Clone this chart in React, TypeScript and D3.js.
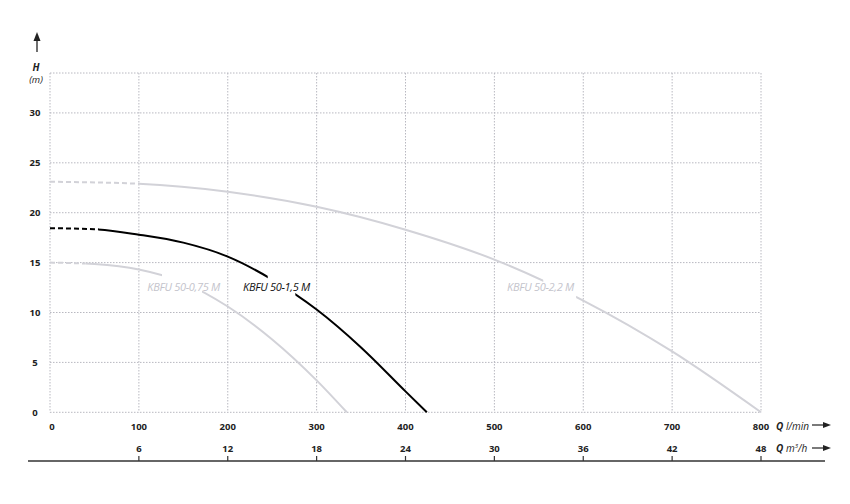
import React from "react";
import * as d3 from "d3";

const yTicks = [0, 5, 10, 15, 20, 25, 30];
const qLminTicks = [0, 100, 200, 300, 400, 500, 600, 700, 800];
const qM3hTicks = [6, 12, 18, 24, 30, 36, 42, 48];

const q22 = [0, 100, 200, 300, 400, 500, 600, 700, 800];
const h22 = [23.1, 22.9, 22.1, 20.6, 18.3, 15.3, 11.2, 6.1, 0];
const q15 = [0, 50, 100, 150, 200, 250, 300, 350, 400, 424];
const h15 = [18.45, 18.35, 17.8, 17.0, 15.6, 13.3, 10.3, 6.5, 2.1, 0];
const q075 = [0, 50, 100, 150, 200, 250, 300, 334];
const h075 = [15.0, 14.85, 14.3, 13.0, 10.6, 7.3, 3.2, 0];

type Pump = { id: string; name: string; q: number[]; h: number[]; dashEnd: number; gap: [number, number]; color: string; labelColor: string; lx: number; ly: number };

const pumps: Pump[] = [
  { id: "p22", name: "KBFU 50-2,2 M", q: q22, h: h22, dashEnd: 100, gap: [555, 592], color: "#d2d2d8", labelColor: "#c4c4cc", lx: 574, ly: 291 },
  { id: "p075", name: "KBFU 50-0,75 M", q: q075, h: h075, dashEnd: 40, gap: [126, 171], color: "#d2d2d8", labelColor: "#c4c4cc", lx: 220, ly: 291 },
  { id: "p15", name: "KBFU 50-1,5 M", q: q15, h: h15, dashEnd: 55, gap: [245, 276], color: "#000000", labelColor: "#111", lx: 310, ly: 291 },
];

export default function App() {
  const W = 850, H = 504;
  const x = d3.scaleLinear().domain([0, 800]).range([50, 761]);
  const y = d3.scaleLinear().domain([0, 34]).range([412.3, 73]);
  const xm = d3.scaleLinear().domain([0, 48]).range([50, 761]);
  const font = "'Open Sans', 'Noto Sans', sans-serif";
  const gridColor = "#b8b8c0";

  const line = d3.line<[number, number]>().x((d) => x(d[0])).y((d) => y(d[1])).curve(d3.curveMonotoneX);

  return (
    <svg width={W} height={H} style={{ position: "absolute", left: 0, top: 0, background: "#fff" }}>
      <defs>
        {pumps.map((p) => (
          <React.Fragment key={p.id}>
            <clipPath id={p.id + "-dash"}>
              <rect x={0} y={0} width={x(p.dashEnd)} height={H} />
            </clipPath>
            <clipPath id={p.id + "-solid"}>
              <rect x={x(p.dashEnd)} y={0} width={x(p.gap[0]) - x(p.dashEnd)} height={H} />
              <rect x={x(p.gap[1])} y={0} width={W - x(p.gap[1])} height={H} />
            </clipPath>
          </React.Fragment>
        ))}
      </defs>
      {/* grid */}
      {qLminTicks.map((t) => (
        <line key={"v" + t} x1={x(t)} x2={x(t)} y1={y(34)} y2={y(0)} stroke={gridColor} strokeWidth={1} strokeDasharray="1.5 1.5" />
      ))}
      {[...yTicks, 34].map((t) => (
        <line key={"h" + t} x1={x(0)} x2={x(800)} y1={y(t)} y2={y(t)} stroke={gridColor} strokeWidth={1} strokeDasharray="1.5 1.5" />
      ))}
      {/* y tick labels */}
      {yTicks.map((t) => (
        <text key={"yl" + t} x={35} y={y(t) + 3.5} textAnchor="middle" fontFamily={font} fontWeight="bold" fontSize={9.5} fill="#222">{t}</text>
      ))}
      {/* y axis title */}
      <text x={36} y={71} textAnchor="middle" fontFamily={font} fontWeight="bold" fontStyle="italic" fontSize={10} fill="#222">H</text>
      <text x={36} y={83} textAnchor="middle" fontFamily={font} fontStyle="italic" fontSize={9.5} fill="#222">(m)</text>
      <line x1={37} x2={37} y1={52} y2={37} stroke="#222" strokeWidth={1.3} />
      <path d="M33.5,41 L37,32 L40.5,41 Z" fill="#222" />
      {/* x tick labels l/min */}
      {qLminTicks.map((t) => (
        <text key={"xl" + t} x={x(t) + (t === 0 ? 2 : 0)} y={430} textAnchor="middle" fontFamily={font} fontWeight="bold" fontSize={9.5} fill="#222">{t}</text>
      ))}
      {/* x tick labels m3/h */}
      {qM3hTicks.map((t) => (
        <text key={"xm" + t} x={xm(t)} y={452} textAnchor="middle" fontFamily={font} fontWeight="bold" fontSize={9.5} fill="#222">{t}</text>
      ))}
      {/* bottom axis */}
      <line x1={28} x2={825} y1={461} y2={461} stroke="#333" strokeWidth={1.3} />
      {qM3hTicks.map((t) => (
        <line key={"tk" + t} x1={xm(t)} x2={xm(t)} y1={456} y2={461} stroke="#333" strokeWidth={1.2} />
      ))}
      {/* axis unit labels */}
      <text x={776} y={430} fontFamily={font} fontSize={10} fill="#222" fontStyle="italic">
        <tspan fontWeight="bold">Q</tspan> l/min
      </text>
      <line x1={812} x2={826} y1={425} y2={425} stroke="#222" strokeWidth={1.2} />
      <path d="M823,422 L831,425 L823,428 Z" fill="#222" />
      <text x={776} y={452} fontFamily={font} fontSize={10} fill="#222" fontStyle="italic">
        <tspan fontWeight="bold">Q</tspan> m<tspan fontSize={6} dy={-4}>3</tspan><tspan dy={4}>/h</tspan>
      </text>
      <line x1={812} x2={826} y1={448} y2={448} stroke="#222" strokeWidth={1.2} />
      <path d="M823,445 L831,448 L823,451 Z" fill="#222" />
      {/* curves */}
      {pumps.map((p) => {
        const pts = p.q.map((q, i) => [q, p.h[i]] as [number, number]);
        const d = line(pts) || "";
        return (
          <g key={p.id}>
            <path d={d} fill="none" stroke={p.color} strokeWidth={2} strokeDasharray="5 3" clipPath={`url(#${p.id}-dash)`} />
            <path d={d} fill="none" stroke={p.color} strokeWidth={2} clipPath={`url(#${p.id}-solid)`} />
            <text x={p.lx} y={p.ly} textAnchor="end" fontFamily={font} fontStyle="italic" fontSize={11} fill={p.labelColor} letterSpacing={-0.3}>{p.name}</text>
          </g>
        );
      })}
    </svg>
  );
}
